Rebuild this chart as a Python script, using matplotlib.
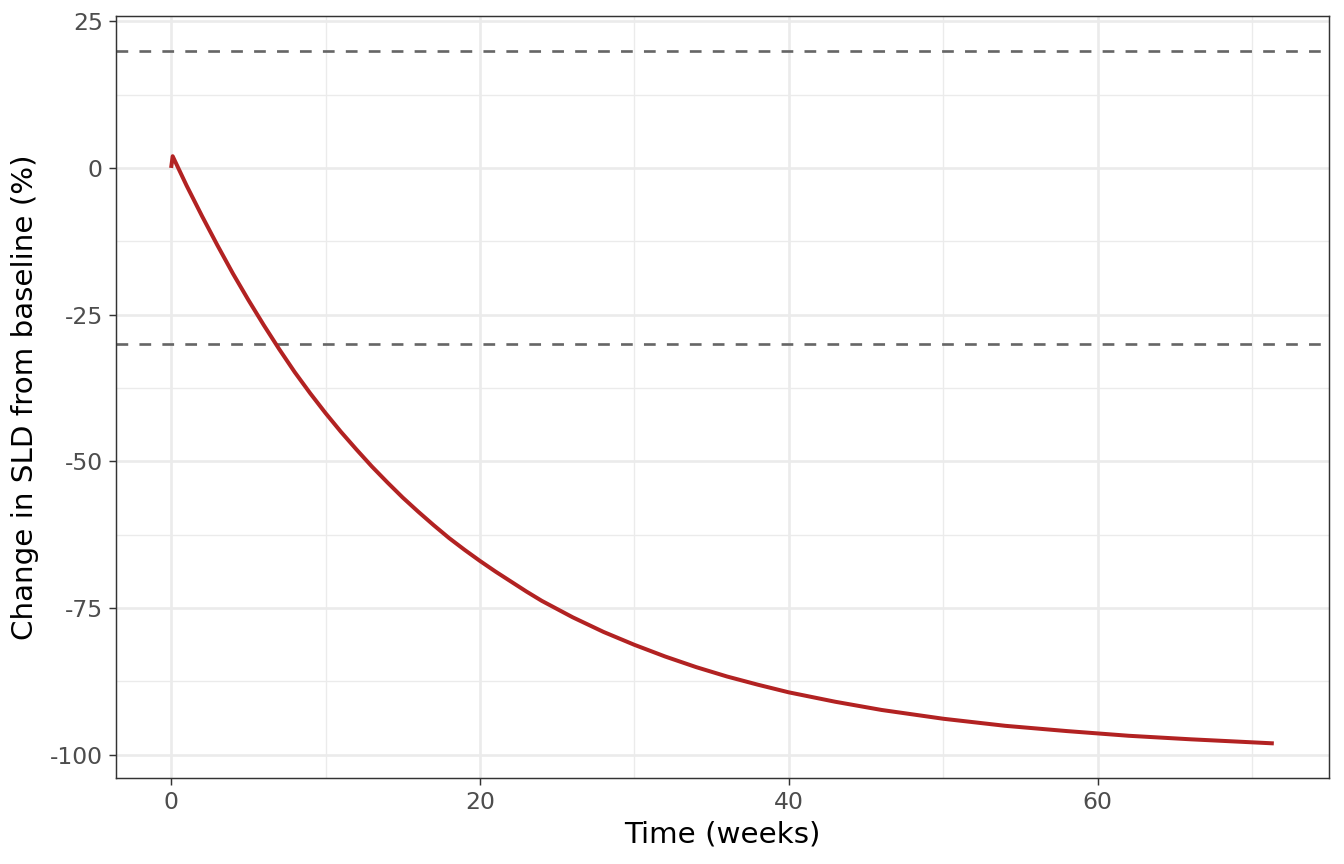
import matplotlib

matplotlib.use("Agg")
import matplotlib.pyplot as plt
from matplotlib.ticker import MultipleLocator

# weeks since baseline and change in SLD (%)
WEEKS = [0, 0.1, 1, 2, 3, 4, 5, 6, 7, 8, 9, 10, 11, 12, 13, 14, 15, 16, 17,
         18, 19, 20, 21, 22, 23, 24, 25, 26, 28, 30, 32, 34, 36, 38, 40, 43,
         46, 50, 54, 58, 62, 66, 71.4]
CHANGE = [0.0, 2.0, -3.0, -8.2, -13.2, -18.0, -22.5, -26.8, -30.9, -34.8,
          -38.4, -41.8, -45.0, -48.0, -50.9, -53.6, -56.2, -58.6, -60.9,
          -63.1, -65.1, -67.0, -68.8, -70.5, -72.2, -73.8, -75.2, -76.6,
          -79.1, -81.3, -83.3, -85.1, -86.7, -88.1, -89.4, -91.0, -92.4,
          -93.9, -95.1, -96.0, -96.8, -97.4, -98.1]
# RECIST-like thresholds (progression / response)
THRESHOLDS = [20, -30]

LINE_COLOR = "#B22222"
GRID_COLOR = "#EBEBEB"


def expanded(values, frac=0.05):
    lo, hi = min(values), max(values)
    pad = (hi - lo) * frac
    return lo - pad, hi + pad


def main():
    plt.rcParams["axes.unicode_minus"] = False
    plt.rcParams["font.family"] = "DejaVu Sans"

    figure = plt.figure(figsize=(7, 4.5), dpi=192)
    axis = figure.add_axes([0.0863, 0.0995, 0.9888 - 0.0863, 0.9815 - 0.0995])

    axis.plot(WEEKS, CHANGE, color=LINE_COLOR, linewidth=1.5,
              solid_capstyle="butt", solid_joinstyle="round", zorder=3)
    for level in THRESHOLDS:
        axis.axhline(level, color="#666666", linewidth=1.0,
                     dashes=(4.4, 4.2), zorder=2)

    axis.set_xlim(*expanded(WEEKS))
    axis.set_ylim(*expanded(CHANGE + THRESHOLDS))

    axis.xaxis.set_major_locator(MultipleLocator(20))
    axis.xaxis.set_minor_locator(MultipleLocator(10))
    axis.yaxis.set_major_locator(MultipleLocator(25))
    axis.yaxis.set_minor_locator(MultipleLocator(12.5))

    axis.grid(True, which="major", color=GRID_COLOR, linewidth=1.0, zorder=0)
    axis.grid(True, which="minor", color=GRID_COLOR, linewidth=0.5, zorder=0)
    axis.set_axisbelow(True)

    for spine in axis.spines.values():
        spine.set_color("#333333")
        spine.set_linewidth(0.55)

    axis.tick_params(which="major", length=2.75, width=0.55, color="#333333",
                     labelsize=8.8, labelcolor="#4D4D4D", pad=2.2)
    axis.tick_params(which="minor", length=0)

    axis.set_xlabel("Time (weeks)", fontsize=11, labelpad=2.5)
    axis.set_ylabel("Change in SLD from baseline (%)", fontsize=11, labelpad=4)

    figure.savefig("out.png", dpi=192)
    plt.close(figure)


if __name__ == "__main__":
    main()
